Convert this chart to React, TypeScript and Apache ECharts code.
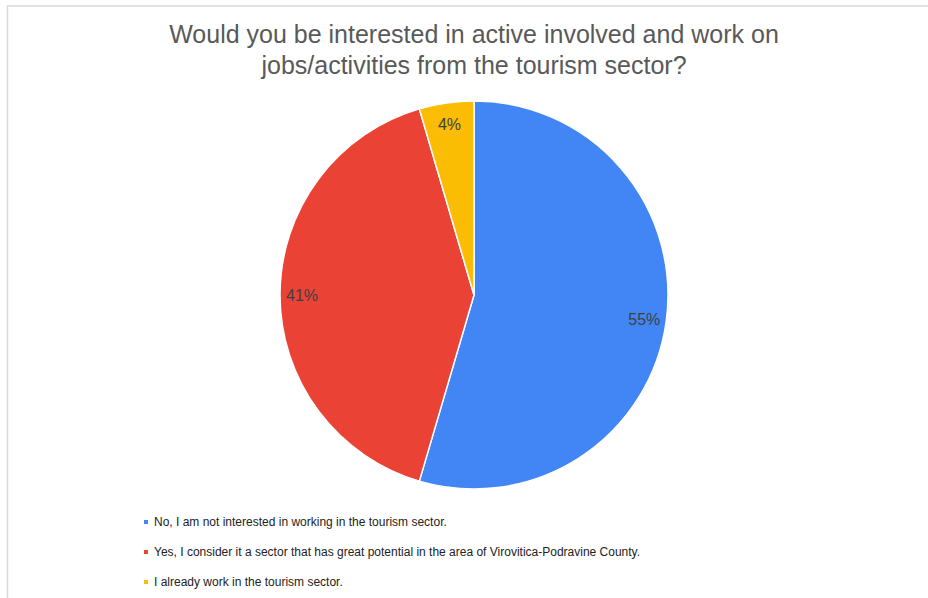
import React, { useEffect, useRef } from "react";
import * as echarts from "echarts";

const titleLines = [
  "Would you be interested in active involved and work on",
  "jobs/activities from the tourism sector?",
];
const categories = [
  "No, I am not interested in working in the tourism sector.",
  "Yes, I consider it a sector that has great potential in the area of Virovitica-Podravine County.",
  "I already work in the tourism sector.",
];
const counts = [12, 9, 1];
const percentLabels = ["55%", "41%", "4%"];
const colors = ["#4285F4", "#EA4335", "#FBBC04"];

export default function App() {
  const ref = useRef<HTMLDivElement>(null);
  useEffect(() => {
    if (!ref.current) return;
    const chart = echarts.init(ref.current, undefined, { renderer: "svg" });
    const data = categories.map((name, i) => ({ name, value: counts[i] }));
    const font = "'Liberation Sans', Arial, sans-serif";
    chart.setOption({
      animation: false,
      backgroundColor: "#ffffff",
      color: colors,
      title: {
        text: titleLines.join("\n"),
        left: 469,
        top: 13,
        textAlign: "center",
        textStyle: {
          fontFamily: font,
          fontSize: 25,
          fontWeight: "normal",
          color: "#595959",
          lineHeight: 31,
        },
      },
      legend: {
        orient: "vertical",
        left: 137,
        top: 511,
        itemWidth: 6,
        itemHeight: 6,
        itemGap: 18,
        icon: "rect",
        data: categories,
        textStyle: { fontFamily: font, fontSize: 12, color: "#222222" },
      },
      graphic: [
        {
          type: "rect",
          shape: { x: 7.5, y: 6, width: 960, height: 640 },
          style: { fill: "none", stroke: "#d9d9d9", lineWidth: 1.5 },
          silent: true,
        },
      ],
      series: [
        {
          type: "pie",
          center: [474, 295],
          radius: [0, 194],
          startAngle: 90,
          clockwise: true,
          data,
          label: { show: false },
          labelLine: { show: false },
          itemStyle: { borderColor: "#ffffff", borderWidth: 1.5 },
          emphasis: { disabled: true },
        },
        {
          type: "pie",
          center: [474, 295],
          radius: [144, 194],
          startAngle: 90,
          clockwise: true,
          data,
          silent: true,
          itemStyle: { color: "rgba(0,0,0,0)" },
          label: {
            show: true,
            position: "inside",
            formatter: (p: any) => percentLabels[p.dataIndex],
            fontFamily: font,
            fontSize: 16,
            color: "#404040",
          },
          labelLine: { show: false },
          emphasis: { disabled: true },
        },
      ],
    });
    return () => chart.dispose();
  }, []);
  return (
    <div
      ref={ref}
      style={{ position: "fixed", left: 0, top: 0, width: 928, height: 598 }}
    />
  );
}
